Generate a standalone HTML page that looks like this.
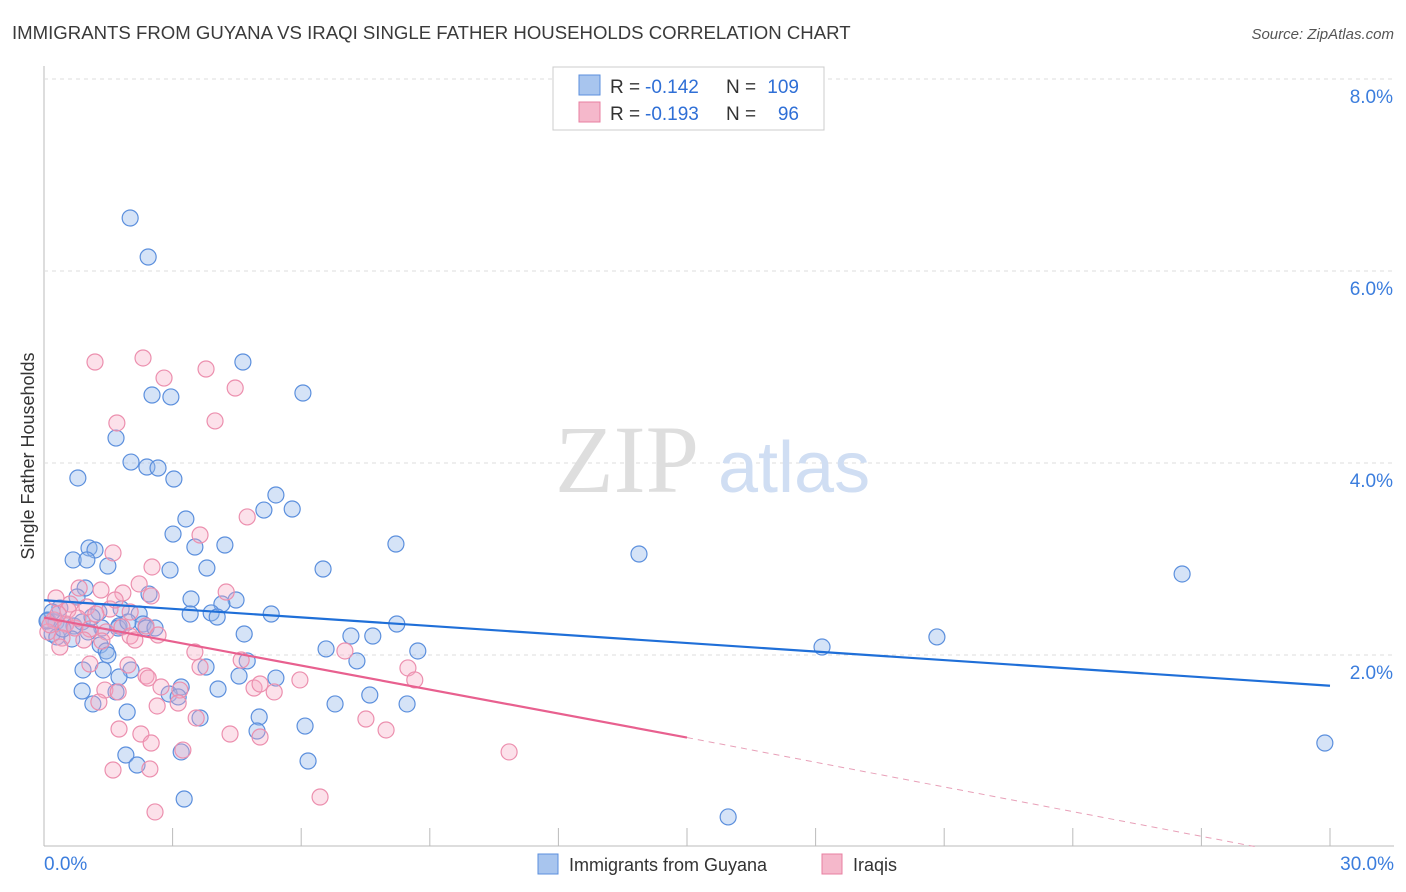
<!DOCTYPE html>
<html><head><meta charset="utf-8"><style>
body{margin:0;background:#fff;font-family:"Liberation Sans",sans-serif;}
</style></head><body>
<svg id="chart" width="1406" height="892" xmlns="http://www.w3.org/2000/svg" style="display:block">
<text x="12" y="39" font-size="18.6" fill="#3a3a3a">IMMIGRANTS FROM GUYANA VS IRAQI SINGLE FATHER HOUSEHOLDS CORRELATION CHART</text>
<text x="1394" y="39" font-size="15" fill="#555" font-style="italic" text-anchor="end">Source: ZipAtlas.com</text>
<text transform="translate(34,456) rotate(-90)" font-size="18" fill="#333" text-anchor="middle">Single Father Households</text>
<g id="grid"></g>
<text x="555" y="492" font-size="96" font-family="Liberation Serif,serif" fill="#dedede">ZIP</text>
<text x="718" y="492" font-size="72" fill="#d0def3">atlas</text>
<g id="marks"></g>
<g>
<rect x="553" y="67" width="271" height="63" fill="#fff" stroke="#ccc"/>
<rect x="579" y="75" width="21" height="20" fill="#a8c5ee" stroke="#5b8fdd"/>
<rect x="579" y="102" width="21" height="20" fill="#f5b8cb" stroke="#e87fa0"/>
<text x="610" y="93" font-size="19" fill="#333">R =</text>
<text x="645" y="93" font-size="19" fill="#2f6fd6">-0.142</text>
<text x="726" y="93" font-size="19" fill="#333">N =</text>
<text x="799" y="93" font-size="19" fill="#2f6fd6" text-anchor="end">109</text>
<text x="610" y="120" font-size="19" fill="#333">R =</text>
<text x="645" y="120" font-size="19" fill="#2f6fd6">-0.193</text>
<text x="726" y="120" font-size="19" fill="#333">N =</text>
<text x="799" y="120" font-size="19" fill="#2f6fd6" text-anchor="end">96</text>
</g>
<g>
<rect x="538" y="854" width="20" height="20" fill="#a8c5ee" stroke="#5b8fdd"/>
<text x="569" y="871" font-size="18" fill="#333">Immigrants from Guyana</text>
<rect x="822" y="854" width="20" height="20" fill="#f5b8cb" stroke="#e87fa0"/>
<text x="853" y="871" font-size="18" fill="#333">Iraqis</text>
</g>
</svg>
<script>
const yTicks=[2,4,6,8];
const yTickLabels=["2.0%","4.0%","6.0%","8.0%"];
const xTickLabels=["0.0%","30.0%"];
const bluePx=[[130,218],[148,257],[243,362],[303,393],[152,395],[171,397],[116,438],[131,462],[147,467],[158,468],[78,478],[174,479],[276,495],[186,519],[264,510],[292,509],[173,534],[396,544],[225,545],[89,548],[95,550],[195,547],[73,560],[87,560],[108,566],[207,568],[323,569],[170,570],[639,554],[1182,574],[85,588],[77,597],[149,594],[191,599],[236,600],[222,604],[60,608],[121,609],[99,612],[139,614],[211,613],[190,614],[271,614],[217,617],[48,620],[56,622],[66,624],[74,626],[82,622],[102,628],[119,626],[143,624],[146,628],[397,624],[52,634],[88,632],[118,628],[244,634],[351,636],[373,636],[937,637],[57,637],[72,639],[100,645],[106,651],[326,649],[418,651],[822,647],[108,655],[247,661],[357,661],[206,667],[83,670],[103,670],[131,670],[119,677],[239,676],[276,678],[181,687],[82,691],[169,694],[218,689],[116,692],[178,697],[370,695],[93,704],[335,704],[407,704],[127,712],[200,718],[259,717],[305,726],[257,731],[126,755],[137,765],[181,752],[308,761],[184,799],[728,817],[1325,743],[63,629],[92,617],[128,622],[155,628],[52,612],[47,621]];
const pinkPx=[[143,358],[95,362],[206,369],[164,378],[235,388],[117,423],[215,421],[247,517],[200,535],[113,553],[152,567],[79,588],[101,590],[139,584],[123,593],[151,596],[56,598],[70,604],[87,607],[110,609],[96,614],[130,612],[226,592],[54,620],[66,624],[75,628],[90,629],[106,632],[122,627],[146,626],[158,635],[48,632],[62,638],[84,640],[60,647],[102,641],[130,636],[195,652],[241,660],[345,651],[90,664],[128,665],[200,667],[300,680],[408,668],[146,676],[148,678],[105,690],[118,692],[161,687],[180,690],[254,688],[274,692],[99,702],[157,706],[178,703],[196,718],[230,734],[260,737],[366,719],[386,730],[119,729],[141,734],[151,743],[183,750],[509,752],[113,770],[150,769],[155,812],[320,797],[415,680],[260,684],[68,610],[78,618],[115,600],[135,640],[58,614],[50,625]];
const toVal=p=>[+((p[0]-44)/1286*30).toFixed(2),+((847-p[1])/96).toFixed(3)];
const guyanaData=bluePx.map(toVal);
const iraqiData=pinkPx.map(toVal);
const blueTrend=[[0,2.57],[30,1.68]];
const pinkTrend=[[0,2.39],[15,1.14],[28.3,0]];
const X=v=>44+v/30*1286, Y=v=>847-v*96;
const NS="http://www.w3.org/2000/svg";
const grid=document.getElementById('grid'), marks=document.getElementById('marks');
function mk(tag,attrs,parent){const e=document.createElementNS(NS,tag);for(const k in attrs)e.setAttribute(k,attrs[k]);parent.appendChild(e);return e;}
let a=mk('line',{x1:44,y1:66,x2:44,y2:846,stroke:'#bbb'},grid);


a=mk('line',{x1:44,y1:846,x2:1394,y2:846,stroke:'#bbb'},grid);


for(let i=1;i<=10;i++){const t=mk('line',{x1:X(i*3),y1:828,x2:X(i*3),y2:846,stroke:'#bbb'},grid);

}
yTicks.forEach((v,i)=>{const g=mk('line',{x1:44,y1:Y(v),x2:1394,y2:Y(v),stroke:'#ddd','stroke-dasharray':'4,4'},grid);


const t=mk('text',{x:1393,y:Y(v)+24,'font-size':19,fill:'#3b7ddd','text-anchor':'end'},grid);t.textContent=yTickLabels[i];

});
[[0,'start',44],[30,'end',1394]].forEach((d,i)=>{const t=mk('text',{x:d[2],y:870,'font-size':19,fill:'#3b7ddd','text-anchor':d[1]},grid);t.textContent=xTickLabels[i];

});
guyanaData.forEach(p=>{const c=mk('circle',{cx:X(p[0]),cy:Y(p[1]),r:8,fill:'rgba(150,185,235,0.4)',stroke:'#5b8fdd','stroke-width':1.2},marks);

});
iraqiData.forEach(p=>{const c=mk('circle',{cx:X(p[0]),cy:Y(p[1]),r:8,fill:'rgba(245,170,195,0.35)',stroke:'#ec8fae','stroke-width':1.2},marks);

});
let l=mk('line',{x1:X(blueTrend[0][0]),y1:Y(blueTrend[0][1]),x2:X(blueTrend[1][0]),y2:Y(blueTrend[1][1]),stroke:'#1f6fd8','stroke-width':2.2},marks);


l=mk('line',{x1:X(pinkTrend[0][0]),y1:Y(pinkTrend[0][1]),x2:X(pinkTrend[1][0]),y2:Y(pinkTrend[1][1]),stroke:'#e8608f','stroke-width':2.2},marks);


l=mk('line',{x1:X(pinkTrend[1][0]),y1:Y(pinkTrend[1][1]),x2:X(pinkTrend[2][0]),y2:Y(pinkTrend[2][1]),stroke:'#e8a0b8','stroke-width':1,'stroke-dasharray':'6,5'},marks);


</script>
</body></html>
